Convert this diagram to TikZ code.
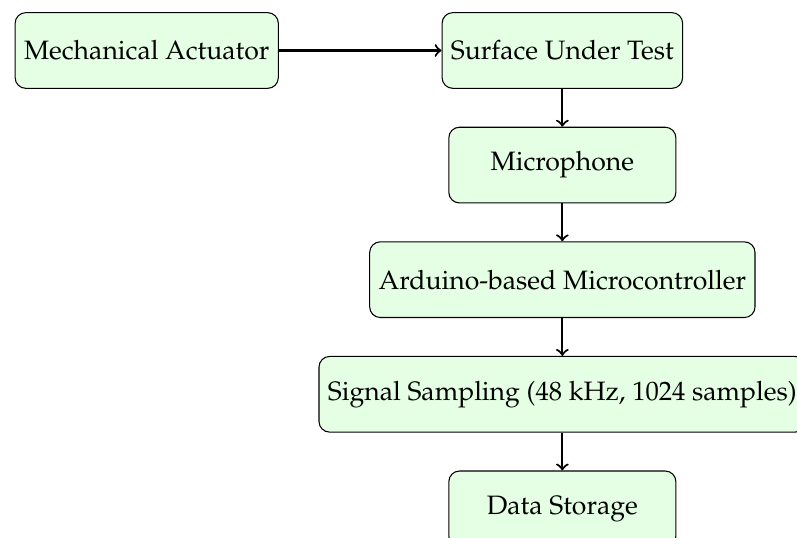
\documentclass[tikz,border=0pt]{standalone}
\usepackage[T1]{fontenc}
\usepackage{mathpazo}
\usepackage{tikz}
\usetikzlibrary{arrows,positioning}

\begin{document}
\begin{tikzpicture}[node distance=0.5cm,
  box/.style={draw, rounded corners, fill=green!10, minimum width=3cm, minimum height=1cm},
  link/.style={->, thick}]
\useasboundingbox (-7.43cm,0.667cm) rectangle (3.10cm,-6.44cm);
\node[box] (surface) at (0,0) {Surface Under Test};
\node[box, left=2.15cm of surface] (actuator) {Mechanical Actuator};
\node[box, below=of surface] (mic) {Microphone};
\node[box, below=of mic] (arduino) {Arduino-based Microcontroller};
\node[box, below=of arduino] (sampling) {Signal Sampling (48 kHz, 1024 samples)};
\node[box, below=of sampling] (storage) {Data Storage};
\draw[link] (actuator) -- (surface);
\draw[link] (surface) -- (mic);
\draw[link] (mic) -- (arduino);
\draw[link] (arduino) -- (sampling);
\draw[link] (sampling) -- (storage);
\end{tikzpicture}
\end{document}
